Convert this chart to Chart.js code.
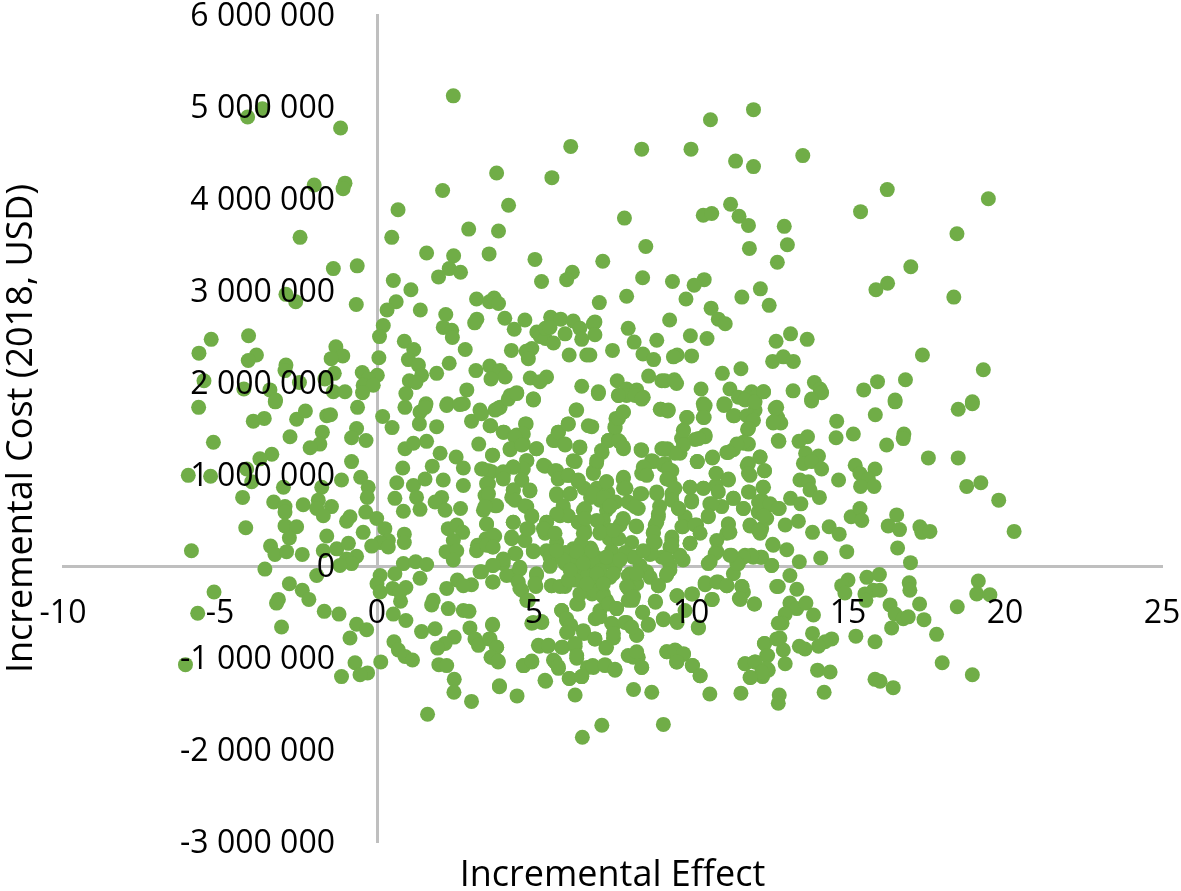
<!DOCTYPE html>
<html><head><meta charset="utf-8"><style>html,body{margin:0;padding:0;background:#fff}canvas{display:block}</style>
<script src="https://cdn.jsdelivr.net/npm/chart.js@4"></script></head><body><canvas id="c" width="1181" height="891"></canvas>
<script>
// [incremental effect, incremental cost in million USD]
const upperLeft=[[2.43,5.12],[-4.12,4.89],[-3.65,4.98],[-1.16,4.77],[-2,4.15],[-1.02,4.17],[-1.08,4.11],[6.17,4.57],[3.81,4.28],[2.09,4.09],[5.57,4.23],[.67,3.88],[4.19,3.93],[2.92,3.67],[3.87,3.65],[.47,3.58],[-2.45,3.58],[1.58,3.41],[2.44,3.38],[3.57,3.4],[5.03,3.34],[-1.39,3.24],[-.63,3.27],[2.3,3.24],[2.66,3.2],[1.96,3.15],[6.22,3.2],[6.04,3.12],[5.24,3.1],[.52,3.11],[1.08,3.01],[-2.9,2.96],[-2.59,2.88],[-.66,2.85],[.61,2.88],[.32,2.79],[1.38,2.79],[3.17,2.91],[3.58,2.88],[3.73,2.92],[3.87,2.86],[2.19,2.74],[3.18,2.69],[3.11,2.65],[4.07,2.7],[4.71,2.68],[5.53,2.71],[5.85,2.69],[6.25,2.67],[.2,2.62],[.08,2.5],[-5.28,2.47],[-4.09,2.51],[.87,2.45],[1.17,2.36],[2.11,2.6],[2.38,2.57],[2.4,2.49],[4.37,2.58],[5.09,2.55],[5.2,2.5],[5.36,2.48],[5.62,2.43],[5.36,2.59],[5.51,2.6],[5.99,2.53],[6.46,2.59],[6.52,2.47],[6.89,2.64],[-5.67,2.32],[-1.31,2.39],[-1.09,2.29],[-1.46,2.26],[-3.84,2.3],[-4.1,2.24],[-2.9,2.19],[-2.93,2.13],[.06,2.27],[2.81,2.36],[4.28,2.35],[4.93,2.37],[4.75,2.34],[4.82,2.26],[6.12,2.3],[6.68,2.3],[1,2.25],[1.32,2.19],[2.3,2.21],[3.59,2.18],[3.92,2.13],[1.42,2.08],[1.9,2.1],[3.15,2.13],[4.08,2.06],[3.63,2.04],[4.88,2.05],[5.4,2.06],[5.19,2.01],[1.03,2.02],[1.24,2],[-.47,2.11],[-1.36,2.1],[.01,2.08],[-.28,2.04],[-5.51,2.02],[-.44,1.97],[-.12,1.97],[-.46,1.89],[-4.24,1.93],[-3.41,1.92],[-3.23,1.81],[-2.47,2],[-1.66,2.04],[-1.39,1.9],[-1.02,1.9],[2.86,1.92],[.92,1.88],[4.45,1.89],[4.24,1.86],[6.52,1.96],[4.98,1.82],[1.56,1.77],[2.24,1.77],[2.75,1.77]];
const upperRight=[[11.99,4.97],[10.62,4.86],[8.43,4.54],[10,4.54],[11.42,4.41],[11.99,4.35],[13.56,4.47],[16.25,4.1],[19.47,4],[15.4,3.86],[11.26,3.94],[11.53,3.81],[11.83,3.71],[10.39,3.82],[10.66,3.84],[7.88,3.79],[12.97,3.7],[18.47,3.62],[8.56,3.48],[13.07,3.5],[11.86,3.46],[12.75,3.31],[7.19,3.32],[17,3.26],[8.46,3.14],[10.42,3.12],[10.1,3.06],[9.41,3.1],[16.26,3.08],[15.89,3.01],[18.37,2.93],[12.21,3.02],[11.62,2.93],[12.49,2.84],[7.95,2.94],[9.84,2.91],[7.08,2.87],[10.64,2.81],[10.87,2.69],[11.09,2.64],[9.32,2.68],[8,2.59],[6.94,2.66],[6.94,2.52],[9.98,2.51],[10.51,2.48],[13.17,2.53],[12.71,2.45],[13.7,2.47],[8.91,2.46],[8.19,2.44],[7.5,2.35],[6.78,2.3],[8.47,2.31],[8.81,2.25],[9.56,2.3],[9.44,2.28],[10.02,2.29],[17.37,2.3],[12.6,2.23],[12.94,2.28],[13.26,2.23],[11,2.1],[11.59,2.15],[19.31,2.14],[8.65,2.07],[7.65,2.02],[9.07,2.02],[9.17,2.02],[9.47,2.03],[9.54,1.99],[16.83,2.03],[15.94,2.01],[13.93,2],[14.11,1.93],[14.16,1.89],[15.5,1.92],[10.32,1.93],[11.24,1.93],[7.05,1.9],[7.95,1.93],[8.27,1.92],[7.69,1.86],[7.95,1.86],[8.22,1.86],[8.48,1.84],[11.93,1.9],[12.31,1.9],[13.25,1.91],[11.51,1.84],[11.77,1.84],[12.04,1.84],[13.84,1.82],[16.5,1.81],[18.96,1.79],[10.39,1.77],[11.05,1.77]];
const lowerLeft=[[-5.68,1.73],[-3.24,1.79],[-3.94,1.58],[-3.59,1.61],[-2.56,1.6],[-2.28,1.69],[-1.6,1.64],[-1.48,1.65],[-.62,1.73],[.18,1.63],[.48,1.51],[.89,1.73],[-5.21,1.35],[-2.77,1.41],[-1.74,1.46],[-1.82,1.33],[-2.13,1.29],[-.65,1.5],[-.81,1.4],[-.35,1.37],[1.37,1.68],[1.53,1.73],[1.35,1.55],[1.9,1.52],[1.58,1.36],[.89,1.28],[1.16,1.34],[2.01,1.23],[2.22,1.75],[2.64,1.76],[3.28,1.7],[3.01,1.58],[3.62,1.53],[3.86,1.72],[4.02,1.46],[3.24,1.33],[3.68,1.21],[4.75,1.55],[4.45,1.43],[4.66,1.33],[4.24,1.27],[5.08,1.28],[4.98,1.81],[6.34,1.7],[6.09,1.55],[5.78,1.46],[5.62,1.37],[5.99,1.32],[6.46,1.29],[2.52,1.19],[2.75,1.07],[1.76,1.09],[.82,1.07],[-.81,1.14],[-3.35,1.22],[-3.73,1.17],[-6.01,.99],[-5.3,.98],[-4.15,1.06],[-3.99,.92],[-2.98,.86],[-1.76,.86],[-1.13,.94],[-.52,.97],[-.28,.86],[-.31,.75],[-4.28,.75],[-3.29,.7],[-2.93,.65],[-2.93,.59],[-2.35,.67],[-1.87,.72],[-1.92,.63],[-1.45,.65],[-1.71,.55],[-.86,.54],[-.97,.49],[-.36,.59],[-.01,.52],[-.44,.37],[.25,.41],[.36,.28],[.1,.26],[-.17,.22],[.36,.21],[.87,.35],[.87,.26],[.63,.91],[1.16,.88],[1.53,.95],[2.11,.94],[2.75,.88],[.57,.74],[.84,.6],[1.26,.75],[1.37,.62],[2.06,.75],[1.85,.7],[2.17,.61],[2.66,.63],[2.27,.41],[2.54,.45],[2.73,.37],[2.43,.28],[2.2,.16],[2.54,.17],[2.43,.07],[3.37,1.06],[3.65,1.03],[4.02,.99],[4.34,1.08],[4.77,1.15],[5.35,1.09],[5.72,1.04],[6.09,.99],[6.31,1.14],[6.41,.92],[3.55,.9],[3.44,.77],[4.61,.94],[4.34,.83],[4.87,.82],[4.29,.75],[5.72,.79],[6.15,.79],[3.39,.61],[3.81,.66],[4.77,.65],[4.93,.54],[5.93,.63],[6.57,.61],[3.49,.46],[4.34,.48],[4.82,.41],[5.4,.48],[5.83,.55],[6.41,.48],[3.75,.33],[3.47,.3],[3.2,.23],[3.68,.21],[3.17,.17],[4.29,.3],[5.72,.26],[5.35,.36],[6.62,.36],[4.71,.28],[4.98,.16],[4.42,.14],[4.02,.07],[5.4,.17],[6.25,.19],[5.72,.1],[6.52,.14],[5.99,.03],[5.51,.01],[6.31,-.04],[-2.93,.44],[-2.56,.43],[-2.79,.31],[-1.6,.33],[-3.39,.22],[-3.25,.13],[-2.88,.16],[-2.38,.13],[-4.18,.42],[-5.91,.17],[-1.71,.17],[-1.28,.19],[-.91,.25],[-.65,.11],[-.97,.08],[-.81,.03],[-1.18,.01],[-3.57,-.03],[-1.92,-.1],[.1,-.1],[0,-.19],[.1,-.28],[.84,.03],[1.23,.05],[1.58,.02],[.57,-.08],[1.37,-.13],[.5,-.24],[.92,-.23],[.75,-.38],[.73,-.28],[-2.79,-.19],[-2.38,-.26],[-2.17,-.36],[-5.19,-.28],[-3.14,-.36],[-3.2,-.4],[-5.71,-.51],[-1.68,-.49],[-1.21,-.52],[-3.04,-.66],[.52,-.52],[.92,-.59],[-.65,-.63],[-.33,-.69],[-.86,-.78],[1.42,-.71],[1.85,-.68],[.54,-.82],[.68,-.91],[.89,-.98],[1.13,-1.02],[-6.1,-1.07],[-.7,-1.05],[.12,-1.04],[-.3,-1.16],[-.54,-1.18],[-1.13,-1.2],[1.79,-.37],[1.74,-.42],[2.27,-.46],[2.75,-.48],[2.93,-.49],[2.22,-.24],[2.56,-.15],[3.01,-.2],[2.75,-.21],[3.28,-.06],[3.68,.01],[3.68,-.17],[4.02,.03],[4.55,-.01],[4.34,-.1],[4.55,-.24],[4.77,-.37],[5.08,-.1],[5.06,-.22],[5.56,-.21],[5.99,-.22],[6.41,-.41],[5.88,-.48],[6.04,-.59],[4.98,-.61],[5.25,-.61],[6.09,-.71],[6.57,-.7],[2.96,-.67],[3.68,-.64],[3.12,-.79],[3.23,-.86],[3.6,-.79],[3.81,-.88],[2.46,-.77],[2.17,-.84],[1.93,-.89],[3.63,-.99],[3.86,-1.04],[1.97,-1.07],[2.22,-1.08],[2.46,-1.23],[2.45,-1.37],[3.01,-1.47],[3.9,-1.31],[4.46,-1.41],[1.61,-1.61],[6.54,-1.86],[5.17,-.87],[5.44,-.87],[5.91,-.88],[6.31,-.87],[6.36,-1],[4.93,-1.04],[4.68,-1.08],[5.67,-1.04],[5.78,-1.11],[5.37,-1.25],[6.13,-1.22],[6.52,-1.2],[6.31,-1.4],[6.7,-1.1]];
const lowerRight=[[18.51,1.71],[18.96,1.77],[16.5,1.79],[13.84,1.8],[15.87,1.65],[14.64,1.58],[14.62,1.4],[15.17,1.44],[16.78,1.44],[16.76,1.39],[16.23,1.32],[17.56,1.18],[18.51,1.18],[13.71,1.41],[13.44,1.36],[12.8,1.36],[12.73,1.73],[12.76,1.62],[12.62,1.56],[12.86,1.56],[10.42,1.73],[10.39,1.62],[11.05,1.75],[11.35,1.64],[11.88,1.61],[12.04,1.7],[11.8,1.49],[9.04,1.71],[9.26,1.69],[9.88,1.62],[7.85,1.68],[7.61,1.61],[7.58,1.5],[6.84,1.52],[9.76,1.48],[9.7,1.39],[10.45,1.41],[10.13,1.38],[7.37,1.37],[7.74,1.35],[7.85,1.28],[8.43,1.26],[9.07,1.28],[9.25,1.28],[7.17,1.24],[6.99,1.12],[6.89,1.03],[9.65,1.23],[8.8,1.14],[8.53,1.08],[8.43,1.01],[9.17,1.12],[10.2,1.14],[10.68,1.18],[11.14,1.24],[11.35,1.27],[11.67,1.34],[11.83,1.33],[12.2,1.19],[11.79,1.1],[11.88,.99],[12.34,1.04],[9.39,1.04],[9.33,.94],[10.8,1.01],[11.19,.94],[7.31,.92],[7.85,.97],[7.93,.85],[9.97,.86],[10.39,.85],[10.79,.88],[12.29,.86],[11.85,.81],[13.47,.94],[13.74,.92],[13.79,.83],[14.09,.75],[13.17,.74],[13.5,.68],[14.7,.94],[15.23,1.1],[15.38,1.01],[15.86,1.06],[15.65,.95],[15.4,.87],[15.83,.87],[13.65,1.23],[14.06,1.2],[13.58,1.12],[13.84,1.14],[14.16,1.06],[8.43,.79],[8.91,.79],[9.39,.79],[10.02,.72],[11.35,.74],[12.25,.72],[12.46,.66],[12.81,.63],[8.11,.68],[8.32,.63],[9,.65],[9.6,.63],[10.6,.68],[10.98,.65],[11.67,.63],[12.14,.59],[12.41,.52],[7.1,.72],[7.31,.61],[7.42,.65],[10.55,.54],[8.96,.54],[9.81,.54],[7.84,.51],[7.21,.5],[13.42,.49],[13,.45],[8.27,.43],[8.86,.45],[7.74,.45],[10.18,.45],[11.19,.46],[11.88,.44],[12.25,.41],[12.2,.36],[9.74,.43],[7.42,.39],[7.1,.36],[8.8,.36],[13.87,.37],[14.4,.43],[14.72,.35],[15.1,.54],[15.38,.63],[15.44,.5],[16.55,.56],[16.28,.44],[16.64,.4],[17.29,.43],[17.35,.37],[17.61,.38],[18.78,.87],[19.23,.91],[19.8,.72],[20.29,.38],[16.58,.2],[16.99,.04],[14.96,.16],[14.13,.09],[13.45,.05],[13.05,.18],[12.6,.24],[12.57,.01],[13.15,-.1],[12.78,-.22],[13.37,-.25],[8.11,.26],[8.86,.26],[9.39,.28],[9.97,.25],[10.82,.28],[11.14,.36],[9.33,.21],[7.47,.17],[6.97,.1],[8.16,.1],[8.69,.13],[9.07,.1],[9.75,.07],[10.55,.03],[10.82,.16],[11.29,.12],[11.72,.12],[11.98,.1],[12.25,.1],[11.51,.03],[7.58,-.01],[7.21,.03],[6.89,-.01],[8.38,.01],[9.33,.01],[9.22,-.1],[7.42,-.12],[8.06,-.08],[8.59,-.06],[6.99,-.15],[8.96,-.21],[8.27,-.19],[8,-.24],[11.35,-.08],[10.87,-.17],[10.45,-.2],[11.14,-.21],[11.62,-.22],[11.67,-.28],[11.57,-.36],[10.68,-.36],[10.05,-.3],[9.56,-.32],[8.87,-.39],[8.14,-.37],[12.02,-.41],[7.21,-.3],[7.31,-.37],[15,-.15],[14.8,-.21],[14.9,-.29],[15.6,-.12],[16,-.09],[15.81,-.26],[16.02,-.26],[15.54,-.3],[15.57,-.37],[16.95,-.18],[16.97,-.26],[19.15,-.16],[19.1,-.3],[19.52,-.31],[17.28,-.41],[16.34,-.42],[18.48,-.44],[16.5,-.52],[16.76,-.57],[16.92,-.55],[17.42,-.58],[16.39,-.67],[17.82,-.74],[15.86,-.82],[15.25,-.76],[18,-1.05],[18.96,-1.18],[15.86,-1.23],[16.02,-1.25],[16.44,-1.32],[13.15,-.4],[13.37,-.46],[13.66,-.4],[13.9,-.53],[13,-.52],[12.9,-.62],[12.83,-.78],[12.94,-.91],[13,-1.06],[13.87,-.73],[14.48,-.79],[14.27,-.82],[14.06,-.87],[13.63,-.9],[13.45,-.87],[12.34,-.84],[12.44,-.97],[11.72,-1.06],[12.04,-1.04],[12.46,-1.13],[12.28,-1.2],[11.9,-1.21],[14.03,-1.13],[14.43,-1.15],[14.24,-1.37],[12.81,-1.4],[12.78,-1.49],[11.59,-1.38],[10.6,-1.39],[8.75,-1.37],[8.17,-1.34],[9.12,-1.72],[7.16,-1.73],[10.29,-1.19],[10.04,-1.08],[9.54,-1.04],[9.76,-.96],[9.52,-.92],[9.23,-.93],[8.43,-1.1],[8.32,-.99],[8.16,-.99],[7.58,-1.13],[7.26,-1.08],[6.89,-1.1],[7.29,-.89],[6.94,-.79],[7.53,-.78],[8.27,-.75],[8.64,-.64],[7.95,-.61],[7.47,-.62],[6.95,-.57],[8.46,-.5],[9.12,-.58],[9.56,-.61],[10.23,-.66],[7.63,-.46],[7.1,-.48]];
const denseCore=[[6,.15],[6.2,.05],[6.4,-.05],[6.6,.1],[6.8,.2],[6.5,.25],[6.7,-.1],[6.9,.05],[7.1,-.05],[6.3,-.15],[6.6,-.25],[6.85,-.3],[7,-.2],[7.3,.1],[7.4,.3],[6.6,.4],[7,.5],[6.8,.75],[6.6,.85],[7,.85],[7.35,.8],[7.6,.7],[7.85,.85],[7.7,.3],[7.9,.15],[8,-.1]];
const centerUpperLeft=[[3.92,1.73],[3.76,1.7],[4.18,1.82],[4.45,1.88],[4.98,1.82],[3.6,1.53],[4.04,1.46],[4.73,1.55],[4.66,1.44],[4.39,1.41],[4.24,1.28],[4.61,1.32],[5.08,1.28],[3.68,1.21],[4.77,1.15],[4.66,1.06],[4.34,1.08],[4.02,1.03],[4.02,.95],[3.55,1.04],[3.33,1.06],[3.49,.9],[3.55,.79],[4.61,.94],[4.34,.83],[4.87,.83],[4.39,.72],[4.71,.66],[4.93,.55],[3.76,.66],[3.44,.65],[3.49,.46],[4.34,.48],[4.77,.41],[3.7,.34],[4.29,.32],[5.3,1.1],[5.67,1.04],[5.77,.95],[6.09,.99],[6.41,.94],[6.25,1.15],[6.46,1.3],[5.67,1.37],[5.77,1.46],[6.09,1.55],[6.36,1.7],[6.73,1.53],[5.99,1.33],[5.72,.77],[6.15,.79],[5.93,.66],[6.09,.55],[5.72,.57],[5.4,.48],[5.3,.41],[5.67,.36],[6.62,.63],[6.41,.48],[6.62,.52],[6.57,.36],[6.89,.79],[7.21,.75],[7.42,.66],[7.31,.92],[6.89,1.01],[7,1.15],[7.15,1.26],[7.37,1.37],[7.69,1.37],[7.84,1.3],[7.58,1.52],[7.69,1.61],[7.84,1.68],[7.69,1.86],[7.05,1.88],[7.84,.95],[7.9,.85],[8,.7],[7.84,.52],[7.1,.37],[7.53,.39],[3.33,1.66]];
const centerUpperRight=[[8.43,1.82],[9.02,1.71],[9.28,1.7],[10.45,1.75],[10.42,1.62],[9.86,1.62],[9.76,1.48],[11.09,1.76],[11.38,1.64],[11.72,1.81],[12.04,1.79],[12.31,1.9],[11.78,1.64],[11.99,1.59],[11.83,1.5],[12.68,1.72],[12.62,1.57],[12.78,1.37],[10.45,1.43],[10.24,1.39],[9.76,1.32],[9.49,1.23],[9.12,1.28],[8.41,1.27],[11.67,1.35],[11.46,1.33],[11.19,1.24],[10.69,1.19],[10.2,1.14],[12.2,1.19],[11.83,1.12],[11.83,1.01],[12.34,1.04],[8.75,1.15],[8.48,1.08],[8.59,.99],[9.12,1.1],[9.28,1.06],[9.23,.95],[10.8,1.01],[11.19,.95],[11.83,.81],[12.31,.86],[9.49,.85],[9.97,.86],[10.4,.85],[8.38,.79],[8.91,.81],[10.02,.7],[10.87,.81],[10.66,.68],[11.35,.74],[11.67,.63],[12.15,.7],[12.52,.68],[12.78,.63],[8.22,.65],[8.96,.57],[9.39,.72],[9.6,.63],[10.55,.55],[11.19,.46],[12.31,.55],[11.88,.45],[12.15,.39],[8.25,.44],[8.91,.48],[8.8,.37],[9.71,.43],[10.13,.45],[10.29,.36],[11.24,.37],[9.39,.32]];
const centerLowerLeft=[[4.39,.14],[4.02,.08],[3.7,.01],[3.33,-.06],[3.7,-.17],[4.13,-.1],[4.55,-.03],[4.5,-.17],[4.61,-.26],[4.82,-.37],[5.08,-.08],[5.03,-.19],[3.49,.23],[3.7,.21],[4.98,.17],[5.51,.1],[5.51,0],[5.56,-.21],[5.83,-.22],[6.09,-.15],[6.36,-.41],[6.46,-.3],[6.89,-.26],[7.21,-.33],[7.37,-.41],[7.63,-.46],[7.1,-.55],[7.53,-.64],[7.53,-.73],[7.9,-.61],[7.31,-.88],[6.59,-.73],[6.94,-.79],[5.88,-.48],[6.04,-.57],[6.17,-.64],[6.04,-.72],[5.24,-.6],[4.93,-.62],[3.68,-.63],[3.58,-.79],[3.81,-.88],[3.65,-.99],[3.86,-1.03],[5.14,-.86],[5.46,-.86],[5.88,-.88],[6.31,-.84],[6.36,-.97],[4.66,-1.08],[4.93,-1.03],[5.62,-1.02],[5.77,-1.09],[5.35,-1.24],[6.12,-1.22],[6.52,-1.2],[6.87,-1.08],[7.26,-1.07],[7.58,-1.12],[3.9,-1.3],[8,-.97],[7.95,-.22],[8,-.37],[5.93,.07],[6.36,.16],[6.84,.17],[7.31,.1],[7.53,-.08],[7.74,.07],[6.15,-.04],[7,-.08],[6.57,.03],[5.72,.17],[6.68,-.19],[7.21,-.19]];
const centerLowerRight=[[12.62,.23],[12.57,.01],[12.73,-.22],[12.22,.1],[11.93,.12],[11.67,.1],[11.46,.03],[11.24,.12],[10.77,.14],[10.61,.05],[10.45,-.18],[10.82,-.17],[11.14,-.21],[10.66,-.36],[11.62,-.22],[11.54,-.35],[12.02,-.41],[10.02,-.3],[9.55,-.32],[8.86,-.38],[9.12,-.57],[8.46,-.5],[8.64,-.63],[8.27,-.75],[8.11,-.66],[9.55,-.59],[10.24,-.67],[9.81,-.48],[8.27,-.93],[8.43,-1.1],[9.23,-.93],[9.49,-.91],[9.76,-.95],[9.55,-1.04],[10.05,-1.08],[10.29,-1.19],[12.34,-.84],[12.41,-.97],[11.72,-1.06],[12.04,-1.04],[12.41,-1.11],[12.25,-1.15],[11.88,-1.21],[12.78,-.62],[12.73,-.79],[8.22,.1],[8.75,.14],[9.23,.08],[9.65,.12],[9.97,.25],[9.39,.23],[8.8,.27],[9.33,-.04],[9.23,-.08],[8.7,-.12],[8.96,-.21],[8.27,-.08],[8.17,-.33],[8.48,.17]];
const xTitle="Incremental Effect", yTitle="Incremental Cost (2018, USD)";
const pointColor="#70ad47", axisColor="#bfbfbf";
const allPoints=[...upperLeft,...upperRight,...lowerLeft,...lowerRight,...denseCore,...centerUpperLeft,...centerUpperRight,...centerLowerLeft,...centerLowerRight];
const tickFont={family:"'Open Sans'",size:32}, titleFont={family:"'Open Sans'",size:36};
const spaced=v=>{const s=String(Math.abs(v)).replace(/\B(?=(\d{3})+$)/g," ");return (v<0?"-":"")+s;};
const noEdgePadding=s=>{s.paddingLeft=s.paddingRight=s.paddingTop=s.paddingBottom=0;};
const yLabelGap=42;
const shiftYLabels={id:"shiftYLabels",beforeDraw(chart){const s=chart.scales.y;if(s.$shifted)return;s.$shifted=true;s.getLabelItems().forEach(i=>{i.options.translation[0]-=yLabelGap;i.options.translation[1]+=2;});}};
new Chart(document.getElementById("c"),{
 type:"scatter",
 plugins:[shiftYLabels],
 data:{datasets:[{data:allPoints.map(([x,y])=>({x,y:Math.round(y*1e6)})),backgroundColor:pointColor,borderWidth:0,pointRadius:7.5,pointHoverRadius:7.5}]},
 options:{responsive:false,animation:false,
  layout:{padding:{left:0,right:19,top:15,bottom:49}},
  plugins:{legend:{display:false},tooltip:{enabled:false}},
  scales:{
   x:{type:"linear",position:{y:0},min:-10,max:25,afterFit:noEdgePadding,
    grid:{display:false,drawTicks:false},border:{color:axisColor,width:3},
    ticks:{stepSize:5,padding:28,color:"#000",font:tickFont,z:1,maxRotation:0,autoSkip:false,callback:v=>String(v)},
    title:{display:true,text:xTitle,color:"#000",font:titleFont,padding:{top:193,bottom:0}}},
   y:{type:"linear",position:{x:0},min:-3e6,max:6e6,afterFit:noEdgePadding,
    grid:{display:false,drawTicks:false},border:{color:axisColor,width:3},
    ticks:{stepSize:1e6,padding:42,color:"#000",font:tickFont,z:1,autoSkip:false,callback:spaced}},
   yTitleAxis:{type:"linear",position:"left",min:0,max:1,afterFit:s=>{noEdgePadding(s);s.width=63;},
    grid:{display:false,drawTicks:false},border:{display:false},ticks:{display:false},
    title:{display:true,text:yTitle,color:"#000",font:titleFont,padding:{top:0,bottom:20}}}
  }}
});
</script></body></html>
